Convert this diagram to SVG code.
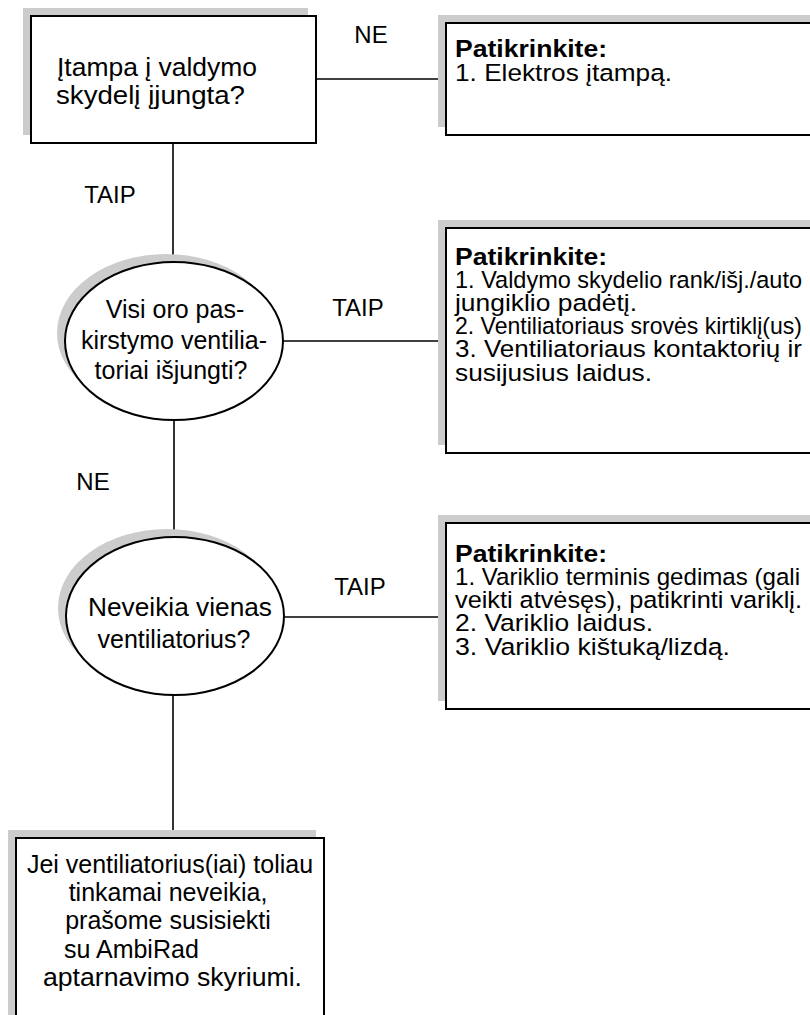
<svg xmlns="http://www.w3.org/2000/svg" width="810" height="1015" viewBox="0 0 810 1015">
<style>
  .shadow { fill: #cccccc; stroke: none; }
  .node { fill: #ffffff; stroke: #000000; stroke-width: 2; }
  .conn { fill: none; stroke: #000000; stroke-width: 1.6; }
  text { font-family: "Liberation Sans", Arial, sans-serif; fill: #000000; }
  .lbl { font-size: 24px; text-anchor: middle; }
  .q { font-size: 25px; }
  .mid { text-anchor: middle; }
  .chk { font-size: 24.5px; }
  .b { font-weight: bold; }
</style>
<rect width="810" height="1015" fill="#ffffff"/>

<g id="connectors">
  <path class="conn" d="M316,79 H446"/>
  <path class="conn" d="M173,143 V262"/>
  <path class="conn" d="M283,341 H446"/>
  <path class="conn" d="M174,420 V537"/>
  <path class="conn" d="M284,617 H446"/>
  <path class="conn" d="M173,695 V838"/>
  <text class="lbl" x="371" y="43">NE</text>
  <text class="lbl" x="110" y="203">TAIP</text>
  <text class="lbl" x="358" y="316">TAIP</text>
  <text class="lbl" x="93" y="490">NE</text>
  <text class="lbl" x="360" y="595">TAIP</text>
</g>

<g id="q1">
  <rect class="shadow" x="23" y="8" width="285" height="127"/>
  <rect class="node" x="31" y="16" width="285" height="127"/>
  <text class="q" x="57" y="76" textLength="200" lengthAdjust="spacingAndGlyphs">Įtampa į valdymo</text>
  <text class="q" x="56" y="104" textLength="189" lengthAdjust="spacingAndGlyphs">skydelį įjungta?</text>
</g>

<g id="check1">
  <rect class="shadow" x="438" y="15" width="400" height="112"/>
  <rect class="node" x="446" y="23" width="400" height="112"/>
  <text class="chk b" x="455" y="57" textLength="152" lengthAdjust="spacingAndGlyphs">Patikrinkite:</text>
  <text class="chk" x="455" y="81" textLength="217" lengthAdjust="spacingAndGlyphs">1. Elektros įtampą.</text>
</g>

<g id="q2">
  <ellipse class="shadow" cx="166" cy="333" rx="109" ry="79"/>
  <ellipse class="node" cx="174" cy="341" rx="109" ry="79"/>
  <text class="q mid" x="175" y="318">Visi oro pas-</text>
  <text class="q mid" x="174" y="349">kirstymo ventilia-</text>
  <text class="q mid" x="171" y="379">toriai išjungti?</text>
</g>

<g id="check2">
  <rect class="shadow" x="438" y="220" width="400" height="225"/>
  <rect class="node" x="446" y="228" width="400" height="225"/>
  <text class="chk b" x="455" y="265" textLength="152" lengthAdjust="spacingAndGlyphs">Patikrinkite:</text>
  <text class="chk" x="455" y="288" textLength="347" lengthAdjust="spacingAndGlyphs">1. Valdymo skydelio rank/išj./auto</text>
  <text class="chk" x="455" y="311" textLength="182" lengthAdjust="spacingAndGlyphs">jungiklio padėtį.</text>
  <text class="chk" x="455" y="334" textLength="347" lengthAdjust="spacingAndGlyphs">2. Ventiliatoriaus srovės kirtiklį(us)</text>
  <text class="chk" x="455" y="357" textLength="347" lengthAdjust="spacingAndGlyphs">3. Ventiliatoriaus kontaktorių ir</text>
  <text class="chk" x="455" y="381" textLength="197" lengthAdjust="spacingAndGlyphs">susijusius laidus.</text>
</g>

<g id="q3">
  <ellipse class="shadow" cx="167" cy="608" rx="109" ry="79"/>
  <ellipse class="node" cx="175" cy="616" rx="109" ry="79"/>
  <text class="q" x="88" y="616" textLength="184" lengthAdjust="spacingAndGlyphs">Neveikia vienas</text>
  <text class="q mid" x="174" y="648">ventiliatorius?</text>
</g>

<g id="check3">
  <rect class="shadow" x="438" y="515" width="400" height="186"/>
  <rect class="node" x="446" y="523" width="400" height="186"/>
  <text class="chk b" x="455" y="562" textLength="152" lengthAdjust="spacingAndGlyphs">Patikrinkite:</text>
  <text class="chk" x="455" y="585" textLength="345" lengthAdjust="spacingAndGlyphs">1. Variklio terminis gedimas (gali</text>
  <text class="chk" x="455" y="608" textLength="347" lengthAdjust="spacingAndGlyphs">veikti atvėsęs), patikrinti variklį.</text>
  <text class="chk" x="455" y="631" textLength="198" lengthAdjust="spacingAndGlyphs">2. Variklio laidus.</text>
  <text class="chk" x="455" y="655" textLength="275" lengthAdjust="spacingAndGlyphs">3. Variklio kištuką/lizdą.</text>
</g>

<g id="contact">
  <rect class="shadow" x="8" y="830" width="308" height="220"/>
  <rect class="node" x="16" y="838" width="308" height="220"/>
  <text class="q mid" x="170" y="873">Jei ventiliatorius(iai) toliau</text>
  <text class="q mid" x="168" y="901">tinkamai neveikia,</text>
  <text class="q mid" x="168" y="929">prašome susisiekti</text>
  <text class="q" x="64" y="958">su AmbiRad</text>
  <text class="q" x="43" y="986" textLength="259" lengthAdjust="spacingAndGlyphs">aptarnavimo skyriumi.</text>
</g>
</svg>
